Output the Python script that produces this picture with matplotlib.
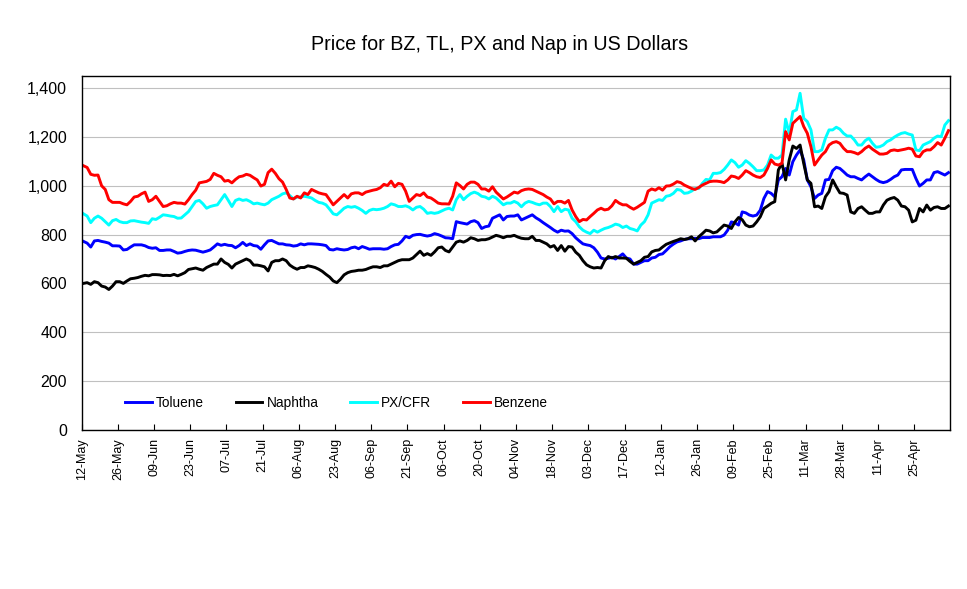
import numpy as np
import matplotlib
matplotlib.use("Agg")
import matplotlib.pyplot as plt

plt.rcParams['font.family'] = ['Liberation Sans', 'DejaVu Sans']

# --- DATA (daily prices, USD) ---
tick_labels = ["12-May", "26-May", "09-Jun", "23-Jun", "07-Jul", "21-Jul", "06-Aug",
               "23-Aug", "06-Sep", "21-Sep", "06-Oct", "20-Oct", "04-Nov", "18-Nov",
               "03-Dec", "17-Dec", "12-Jan", "26-Jan", "09-Feb", "25-Feb", "11-Mar",
               "28-Mar", "11-Apr", "25-Apr"]

toluene = [
    772, 765, 749, 774, 776, 772, 769, 765, 754, 754,
    753, 737, 739, 749, 758, 758, 758, 754, 747, 744,
    746, 735, 735, 737, 737, 731, 724, 726, 731, 735,
    737, 736, 732, 728, 732, 737, 749, 762, 756, 760,
    756, 755, 746, 755, 768, 755, 762, 755, 753, 740,
    758, 774, 776, 769, 762, 762, 758, 757, 753, 755,
    762, 758, 762, 762, 761, 760, 758, 755, 739, 737,
    742, 739, 737, 739, 746, 749, 742, 751, 746, 740,
    742, 742, 742, 740, 742, 751, 758, 760, 774, 793,
    787, 797, 800, 801, 797, 794, 797, 804, 800, 794,
    787, 786, 783, 853, 849, 846, 843, 853, 857, 849,
    825, 832, 835, 867, 874, 881, 860, 874, 876, 876,
    881, 860, 867, 874, 881, 869, 860, 849, 839, 829,
    818, 810, 818, 814, 815, 804, 787, 774, 762, 758,
    755, 746, 728, 704, 700, 703, 707, 700, 710, 721,
    704, 700, 679, 679, 686, 693, 693, 704, 707, 718,
    721, 735, 750, 761, 770, 774, 780, 783, 783, 785,
    783, 788, 788, 788, 791, 791, 791, 798, 818, 852,
    848, 839, 893, 889, 880, 876, 880, 900, 948, 976,
    969, 955, 1024, 1037, 1071, 1044, 1099, 1126, 1147, 1106,
    1024, 996, 948, 962, 969, 1024, 1026, 1062, 1076, 1071,
    1058, 1044, 1037, 1037, 1030, 1024, 1037, 1048, 1037, 1026,
    1017, 1013, 1017, 1026, 1037, 1044, 1065, 1067, 1067, 1067,
    1030, 999, 1010, 1024, 1024, 1054, 1058, 1051, 1044, 1054,
]

naphtha = [
    600, 603, 596, 607, 603, 589, 585, 575, 589, 607,
    607, 600, 610, 619, 621, 624, 629, 633, 631, 636,
    636, 635, 632, 633, 632, 637, 631, 637, 644, 657,
    660, 663, 658, 654, 665, 672, 679, 679, 700, 686,
    678, 663, 679, 686, 693, 700, 693, 675, 675, 672,
    668, 651, 686, 693, 693, 700, 693, 675, 665, 658,
    665, 665, 672, 669, 665, 658, 649, 637, 626, 610,
    603, 617, 635, 644, 649, 651, 654, 654, 657, 663,
    668, 668, 665, 672, 672, 679, 686, 693, 697, 697,
    697, 704, 718, 732, 715, 722, 715, 729, 746, 749,
    735, 729, 749, 769, 774, 769, 776, 787, 783, 776,
    779, 779, 783, 790, 797, 793, 787, 793, 793, 797,
    790, 785, 783, 783, 793, 776, 776, 769, 762, 749,
    755, 735, 755, 732, 751, 749, 728, 715, 693, 676,
    668, 663, 665, 663, 693, 710, 704, 710, 704, 704,
    703, 690, 679, 686, 693, 707, 710, 729, 735, 737,
    749, 760, 766, 772, 777, 783, 780, 783, 791, 774,
    791, 804, 818, 815, 807, 811, 825, 839, 835, 825,
    852, 870, 861, 839, 832, 835, 852, 873, 907, 917,
    928, 935, 1065, 1092, 1024, 1106, 1163, 1153, 1167, 1092,
    1024, 1010, 914, 917, 907, 955, 976, 1024, 996, 971,
    969, 962, 893, 887, 907, 914, 900, 887, 887, 893,
    893, 921, 941, 948, 952, 941, 917, 914, 900, 852,
    859, 907, 893, 921, 900, 911, 914, 907, 907, 917,
]

px_cfr = [
    885, 876, 849, 867, 876, 867, 853, 839, 857, 862,
    853, 849, 849, 856, 857, 854, 851, 849, 846, 865,
    862, 871, 881, 879, 876, 874, 867, 868, 881, 894,
    915, 936, 940, 926, 908, 915, 919, 922, 943, 964,
    940, 915, 940, 946, 940, 943, 936, 926, 929, 925,
    922, 929, 943, 950, 957, 967, 971, 960, 946, 954,
    954, 957, 954, 950, 940, 932, 929, 922, 904, 885,
    881, 894, 908, 915, 912, 915, 908, 899, 887, 899,
    904, 902, 904, 908, 915, 926, 922, 915, 915, 918,
    912, 901, 912, 915, 904, 887, 890, 887, 890, 897,
    904, 908, 901, 943, 964, 943, 957, 968, 974, 968,
    957, 954, 946, 957, 950, 936, 922, 929, 929, 936,
    929, 914, 929, 936, 932, 926, 922, 929, 929, 915,
    894, 915, 894, 904, 901, 867, 853, 832, 818, 810,
    804, 818, 810, 818, 825, 829, 835, 843, 839, 829,
    835, 825, 821, 815, 839, 853, 881, 929, 936, 943,
    940, 957, 960, 969, 985, 982, 969, 971, 978, 989,
    989, 1010, 1026, 1024, 1051, 1051, 1054, 1067, 1085, 1106,
    1095, 1076, 1085, 1103, 1092, 1078, 1062, 1062, 1065, 1085,
    1126, 1113, 1113, 1126, 1273, 1215, 1304, 1311, 1379, 1277,
    1263, 1229, 1140, 1140, 1147, 1195, 1229, 1229, 1240, 1232,
    1215, 1204, 1204, 1188, 1167, 1167, 1185, 1195, 1174, 1158,
    1160, 1167, 1181, 1188, 1199, 1208, 1215, 1218, 1212, 1208,
    1147, 1144, 1167, 1174, 1181, 1195, 1204, 1201, 1249, 1267,
]

benzene = [
    1082, 1075, 1047, 1043, 1044, 1000, 985, 943, 932, 932,
    932, 926, 922, 936, 954, 957, 967, 974, 936, 943,
    957, 936, 915, 918, 926, 932, 929, 929, 925, 943,
    964, 982, 1012, 1015, 1018, 1026, 1051, 1043, 1037, 1019,
    1022, 1012, 1026, 1037, 1040, 1047, 1043, 1033, 1024, 999,
    1006, 1054, 1068, 1051, 1029, 1015, 985, 950, 946, 957,
    950, 971, 964, 985, 978, 971, 967, 964, 943, 922,
    936, 950, 964, 950, 967, 971, 971, 964, 974, 978,
    982, 985, 992, 1006, 1001, 1019, 996, 1010, 1006, 978,
    936, 950, 964, 960, 971, 954, 950, 940, 929, 926,
    926, 925, 957, 1012, 1001, 987, 1006, 1015, 1015, 1006,
    987, 987, 978, 996, 974, 960, 946, 954, 964, 974,
    970, 980, 985, 987, 985, 978, 971, 964, 954, 946,
    926, 936, 936, 929, 940, 901, 874, 853, 862, 860,
    874, 887, 901, 908, 901, 904, 918, 940, 929, 922,
    922, 912, 904, 912, 922, 932, 978, 987, 982, 992,
    982, 999, 1000, 1007, 1017, 1013, 1003, 996, 989, 985,
    993, 1003, 1010, 1017, 1019, 1019, 1017, 1013, 1024, 1040,
    1037, 1030, 1044, 1062, 1054, 1044, 1037, 1034, 1044, 1071,
    1106, 1089, 1085, 1092, 1222, 1188, 1256, 1270, 1284, 1243,
    1215, 1160, 1085, 1106, 1126, 1140, 1167, 1177, 1181, 1174,
    1154, 1140, 1140, 1136, 1130, 1140, 1154, 1163, 1150, 1140,
    1130, 1130, 1133, 1144, 1147, 1144, 1147, 1150, 1154, 1150,
    1122, 1119, 1140, 1147, 1147, 1160, 1177, 1167, 1195, 1226,
]

series = [("Toluene", toluene, "#0000FF"),
          ("Naphtha", naphtha, "#000000"),
          ("PX/CFR", px_cfr, "#00FFFF"),
          ("Benzene", benzene, "#FF0000")]

# --- PLOT ---
fig = plt.figure(figsize=(9.67, 5.89), dpi=100)
ax = fig.add_axes([0.0845, 0.2703, 0.8982, 0.6007])

x = np.arange(len(benzene))
for name, vals, col in series:
    ax.plot(x, vals, color=col, linewidth=2.1, label=name)

ax.set_xlim(-0.5, len(benzene) - 0.5)
ax.set_ylim(0, 1450)
ax.set_yticks(range(0, 1401, 200))
ax.set_yticklabels([f"{v:,}" for v in range(0, 1401, 200)])
ax.yaxis.grid(True, color="#c0c0c0", linewidth=0.8)
ax.set_axisbelow(True)

ax.set_xticks(np.arange(0, len(benzene), 10)[:len(tick_labels)] - 0.5)
ax.set_xticklabels(tick_labels, rotation=90, fontsize=9)
ax.tick_params(axis="x", direction="in", length=4, pad=6, color="black")
ax.tick_params(axis="y", length=0, pad=10.5, labelsize=11.5)

for sp in ax.spines.values():
    sp.set_color("black")
    sp.set_linewidth(1.0)

ax.legend(loc="center left", bbox_to_anchor=(0.05, 0.077), ncol=4, frameon=False,
          fontsize=9.8, handlelength=1.95, handletextpad=0.3, columnspacing=2.35,
          borderpad=0, borderaxespad=0)

fig.text(0.517, 1 - 50 / 589, "Price for BZ, TL, PX and Nap in US Dollars",
         ha="center", va="baseline", fontsize=14.2)

fig.savefig("out.png", dpi=100)
